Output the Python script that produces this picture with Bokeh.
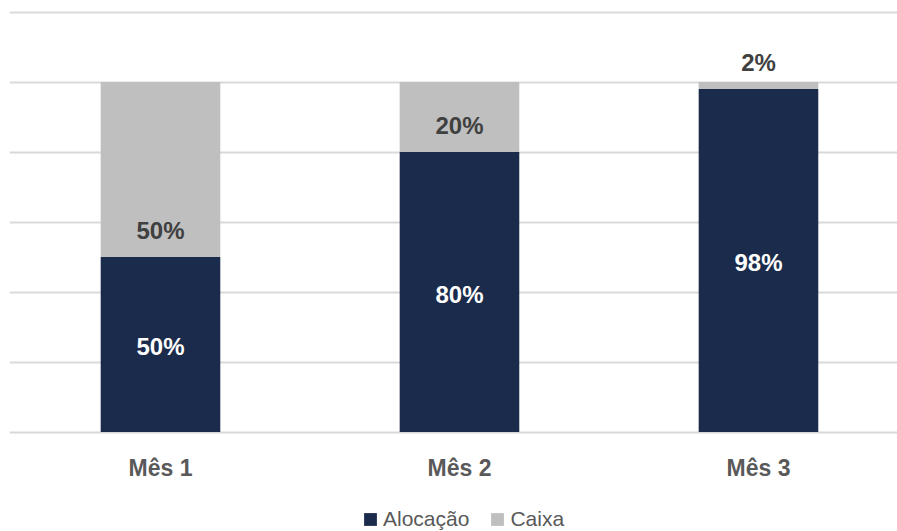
from bokeh.plotting import figure
from bokeh.layouts import column
from bokeh.models import ColumnDataSource, Range1d, FixedTicker, Legend, LegendItem
from bokeh.core.properties import value
from bokeh.embed import file_html
from bokeh.resources import INLINE

months = ["Mês 1", "Mês 2", "Mês 3"]
alocacao = [50, 80, 98]
caixa = [50, 20, 2]
y_ticks = [0, 20, 40, 60, 80, 100, 120]
series_names = ["Alocação", "Caixa"]

NAVY = "#1b2b4b"
GRAY = "#bfbfbf"
FONT = "Liberation Sans"

xs = list(range(len(months)))
src = ColumnDataSource(dict(
    x=xs,
    aloc=alocacao,
    top=[a + c for a, c in zip(alocacao, caixa)],
    aloc_mid=[a / 2 for a in alocacao],
    aloc_lbl=[f"{a}%" for a in alocacao],
    caixa_lbl=[f"{c}%" for c in caixa],
))

p = figure(width=897, height=500, output_backend="svg", toolbar_location=None,
           x_range=Range1d(-0.505, 2.465), y_range=Range1d(-1, 121),
           min_border_left=9, min_border_right=0, min_border_top=8, min_border_bottom=65)
p.outline_line_color = None
p.background_fill_color = "white"
p.border_fill_color = "white"

p.vbar(x="x", bottom=0, top="aloc", width=0.4, source=src, fill_color=NAVY, line_color=None)
p.vbar(x="x", bottom="aloc", top="top", width=0.4, source=src, fill_color=GRAY, line_color=None)

p.text(x="x", y="aloc_mid", text="aloc_lbl", source=src, text_align="center", text_baseline="middle",
       y_offset=2, text_font=value(FONT), text_font_style="bold", text_font_size="24px",
       text_color="white")
p.text(x="x", y="aloc", text="caixa_lbl", source=src, text_align="center", text_baseline="middle",
       y_offset=-27, text_font=value(FONT), text_font_style="bold", text_font_size="24px",
       text_color="#404040")

p.yaxis.visible = False
p.yaxis.ticker = FixedTicker(ticks=y_ticks)
p.ygrid.ticker = FixedTicker(ticks=y_ticks)
p.ygrid.grid_line_color = "#d9d9d9"
p.ygrid.grid_line_width = 2
p.xgrid.visible = False

p.xaxis.ticker = FixedTicker(ticks=xs)
p.xaxis.major_label_overrides = {i: m for i, m in zip(xs, months)}
p.xaxis.axis_line_color = None
p.xaxis.major_tick_line_color = None
p.xaxis.minor_tick_line_color = None
p.xaxis.major_tick_out = 0
p.xaxis.major_tick_in = 0
p.xaxis.minor_tick_out = 0
p.xaxis.major_label_standoff = 19
p.xaxis.major_label_text_font = FONT
p.xaxis.major_label_text_font_style = "bold"
p.xaxis.major_label_text_font_size = "23px"
p.xaxis.major_label_text_color = "#595959"

# legend strip: same series, drawn off-view so only the legend shows
lg = figure(width=897, height=31, output_backend="svg", toolbar_location=None,
            x_range=Range1d(-0.505, 2.465), y_range=Range1d(1000, 1001),
            min_border_left=0, min_border_right=0, min_border_top=0, min_border_bottom=0)
lg.outline_line_color = None
lg.axis.visible = False
lg.grid.visible = False
l1 = lg.vbar(x="x", bottom=0, top="aloc", width=0.4, source=src, fill_color=NAVY, line_color=None)
l2 = lg.vbar(x="x", bottom="aloc", top="top", width=0.4, source=src, fill_color=GRAY, line_color=None)

legend = Legend(items=[LegendItem(label=series_names[0], renderers=[l1]),
                       LegendItem(label=series_names[1], renderers=[l2])],
                orientation="horizontal", location=(353, 0),
                glyph_width=16, glyph_height=16, label_height=16,
                label_text_font=FONT, label_text_font_size="21px", label_text_color="#595959",
                padding=0, margin=0, spacing=20, label_standoff=5,
                border_line_color=None, background_fill_alpha=0)
lg.add_layout(legend)

layout = column(p, lg, spacing=0)
open("out.html", "w").write(file_html(layout, INLINE))
